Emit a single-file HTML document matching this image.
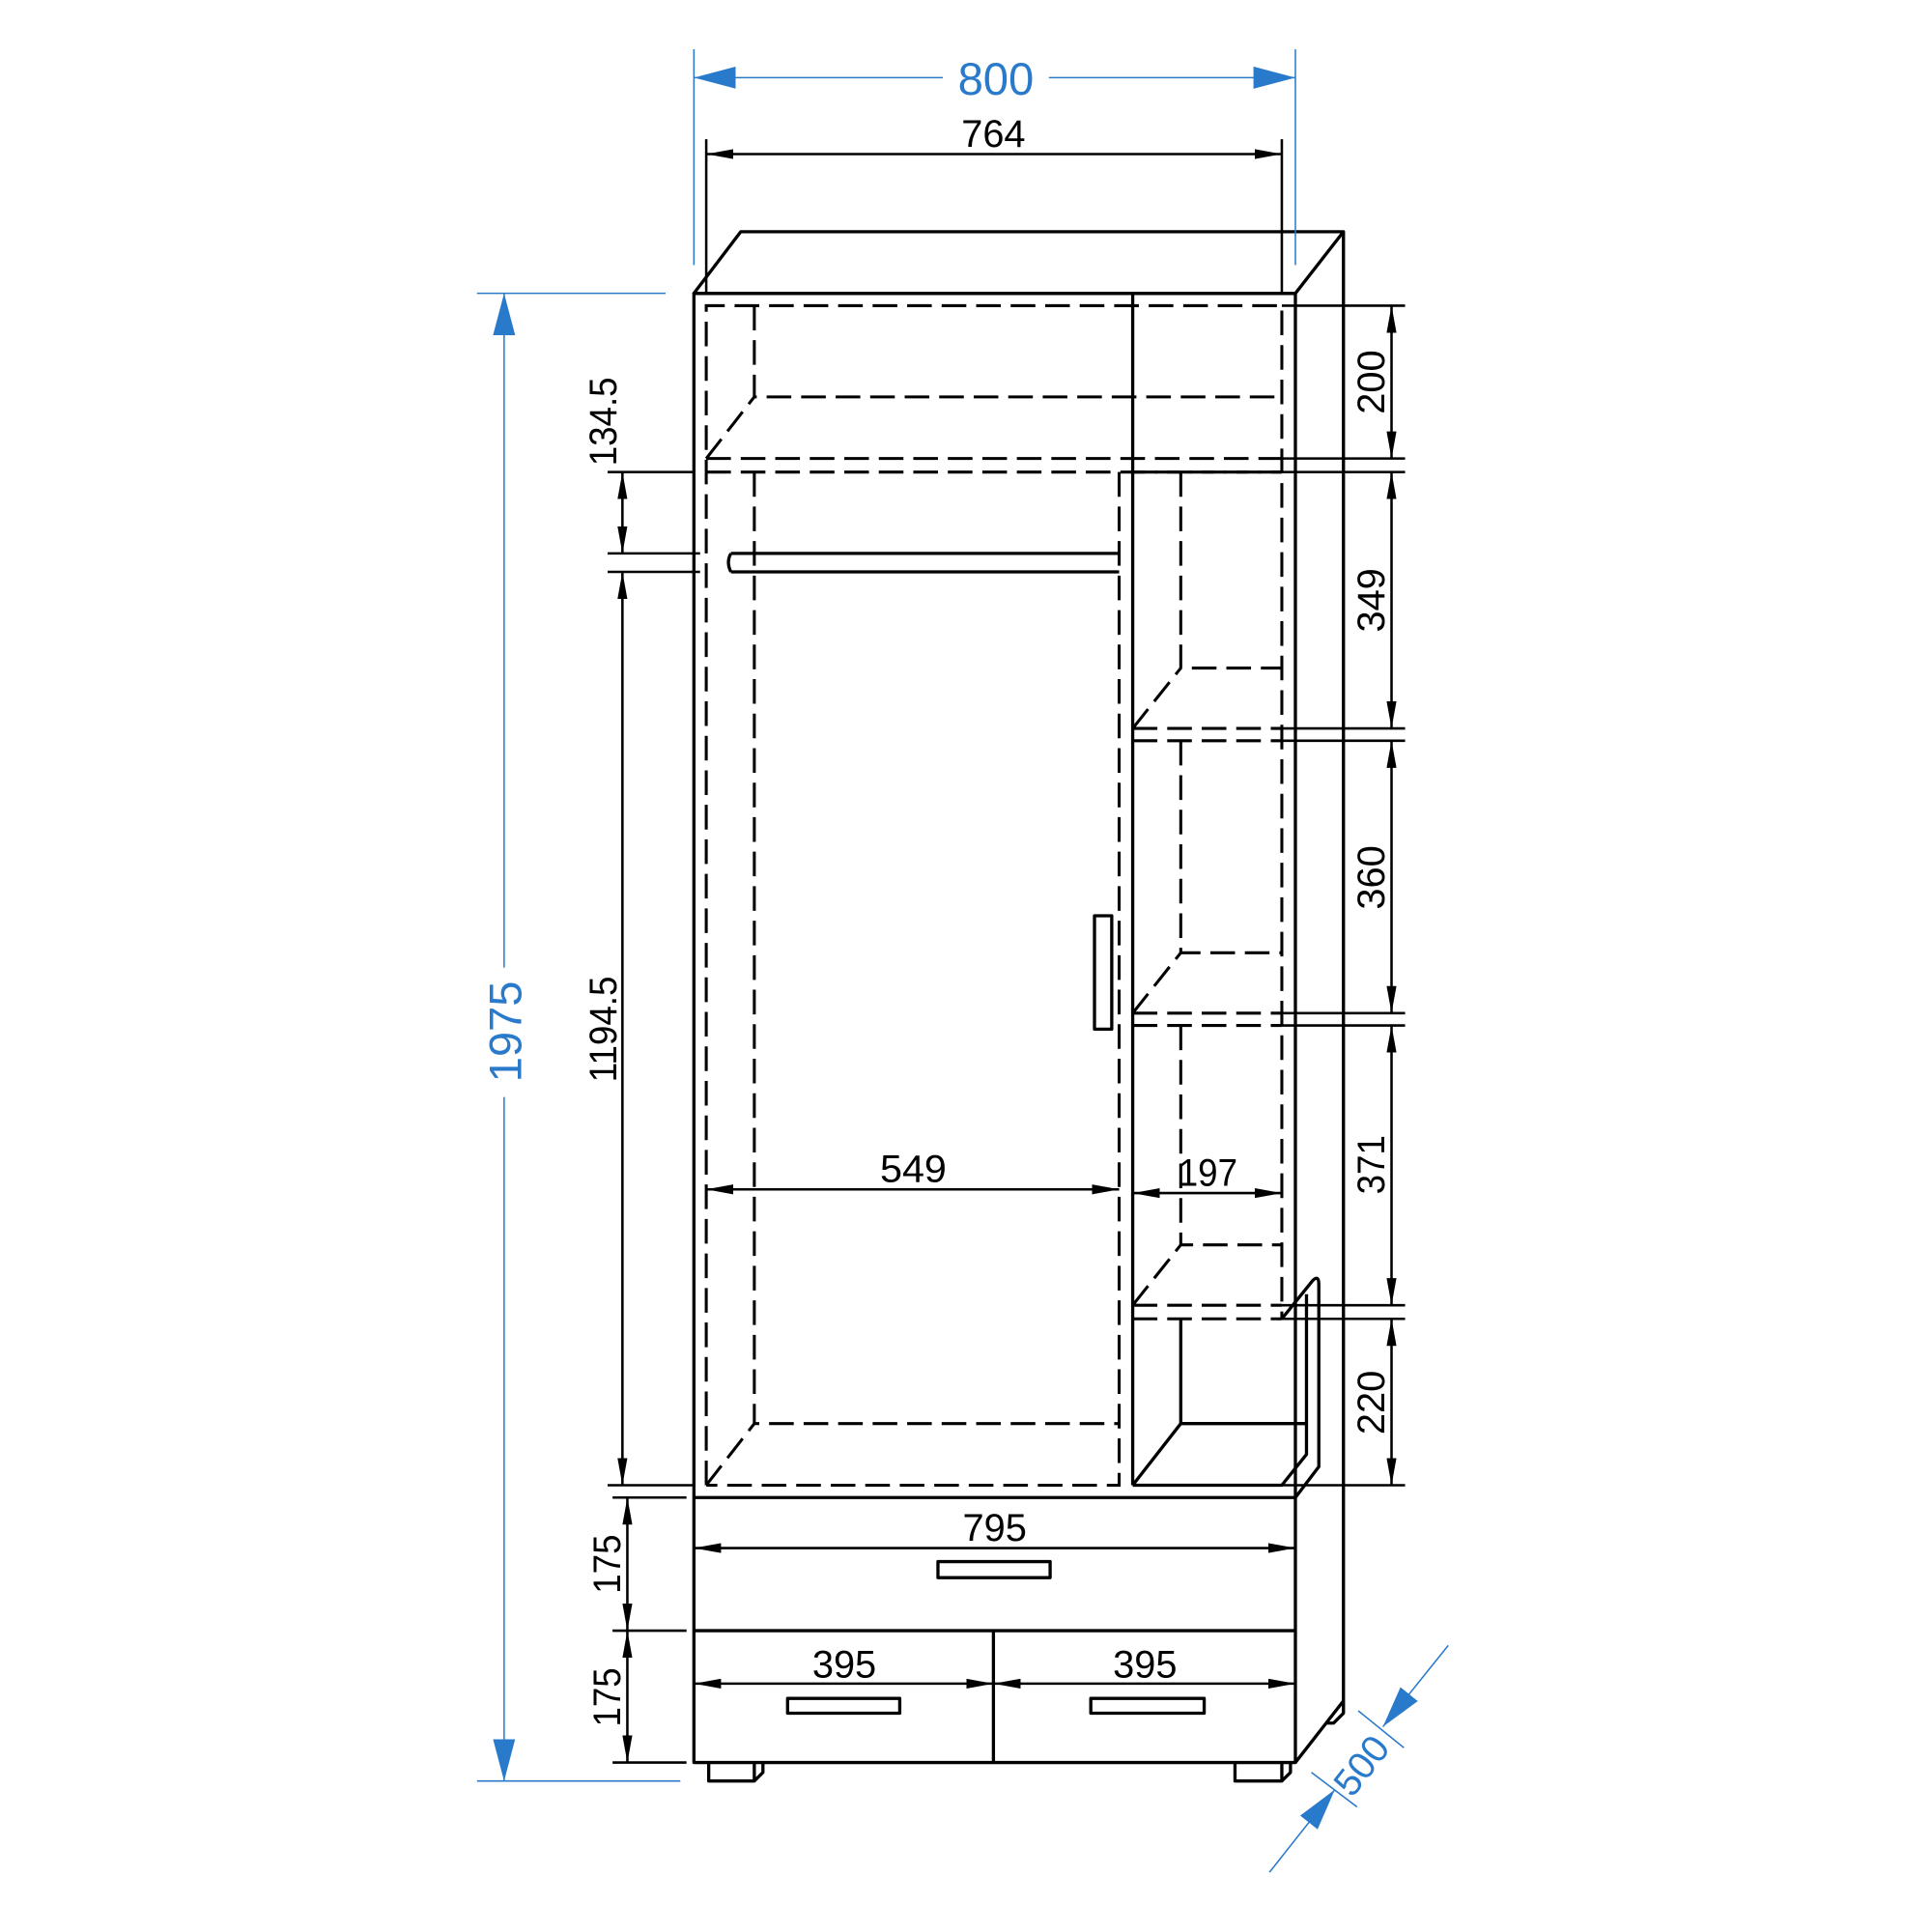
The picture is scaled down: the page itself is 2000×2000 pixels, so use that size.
<!DOCTYPE html>
<html><head><meta charset="utf-8"><style>html,body{margin:0;padding:0;background:#fff}svg{display:block}</style></head>
<body>
<svg xmlns="http://www.w3.org/2000/svg" width="2000" height="2000" viewBox="0 0 1567.5 1567.5">
<defs>
<marker id="a" viewBox="0 0 10 10" refX="10" refY="5" markerWidth="22" markerHeight="8" markerUnits="userSpaceOnUse" orient="auto-start-reverse" preserveAspectRatio="none"><path d="M0,0L10,5L0,10z" fill="#000"/></marker>
<marker id="b" viewBox="0 0 10 10" refX="10" refY="5" markerWidth="34" markerHeight="18" markerUnits="userSpaceOnUse" orient="auto-start-reverse" preserveAspectRatio="none"><path d="M0,0L10,5L0,10z" fill="#2a7acc"/></marker>
</defs>
<g fill="none" stroke="#000" stroke-width="2.6" stroke-linejoin="round">
<path d="M563,238L601,188L1090,188L1051,238Z"/>
<rect x="563" y="238" width="488" height="1192"/>
<path d="M1090,188L1090,1380L1051,1430"/>
<path d="M1090,1380L1090,1390L1082,1398L1076,1398"/>
<path d="M919,238V1205"/>
<path d="M563,1215H1051"/>
<path d="M563,1323H1051M806,1323V1430"/>
<rect x="761" y="1267" width="91" height="13"/>
<rect x="639" y="1378" width="91" height="12"/>
<rect x="885" y="1378" width="92" height="12"/>
<path d="M575,1430V1445H612V1430M612,1445L619,1438V1430"/>
<path d="M1002,1430V1445H1040V1430M1040,1445L1047,1438V1430"/>
<rect x="888" y="743" width="14" height="92"/>
<path d="M593,449H908M593,464H908M593,449Q589,456 593,464"/>
<path d="M958,1070V1155H1060M919,1205L958,1155"/>
<path d="M1040,1070L1065,1039Q1070,1034 1070,1042V1190L1051,1215"/>
<path d="M1060,1050V1180L1040,1205H919"/>
</g>
<g fill="none" stroke="#000" stroke-width="2.4" stroke-dasharray="20,8">
<path d="M573,1205V248H1040V1070"/>
<path d="M612,248V322H1040M573,372L612,322"/>
<path d="M573,372H1040M573,383H1040"/>
<path d="M612,383V1155H908M908,383V1205H573M573,1205L612,1155"/>
<path d="M919,383H1040"/>
<path d="M958,383V542H1040M919,591L958,542M919,591H1040M919,601H1040"/>
<path d="M958,601V773H1040M919,822L958,773M919,822H1040M919,832H1040"/>
<path d="M958,832V1010H1040M919,1059L958,1010M919,1059H1040M919,1070H1040"/>
</g>
<g fill="none" stroke="#000" stroke-width="2">
<path d="M573,113V238M1040,113V238"/>
<path d="M573,125H1040" marker-start="url(#a)" marker-end="url(#a)"/>
<path d="M1040,248H1140M1040,372H1140M1040,383H1140M1040,591H1140M1040,601H1140M1040,822H1140M1040,832H1140M1040,1059H1140M1040,1070H1140M1040,1205H1140"/>
<path d="M1129,248V372" marker-start="url(#a)" marker-end="url(#a)"/>
<path d="M1129,383V591" marker-start="url(#a)" marker-end="url(#a)"/>
<path d="M1129,601V822" marker-start="url(#a)" marker-end="url(#a)"/>
<path d="M1129,832V1059" marker-start="url(#a)" marker-end="url(#a)"/>
<path d="M1129,1070V1205" marker-start="url(#a)" marker-end="url(#a)"/>
<path d="M493,383H563M493,449H568M493,464H568M493,1205H563M497,1215H557M497,1323H557M497,1430H557"/>
<path d="M505,383V449" marker-start="url(#a)" marker-end="url(#a)"/>
<path d="M505,464V1205" marker-start="url(#a)" marker-end="url(#a)"/>
<path d="M509,1215V1323" marker-start="url(#a)" marker-end="url(#a)"/>
<path d="M509,1323V1430" marker-start="url(#a)" marker-end="url(#a)"/>
<path d="M573,965H908" marker-start="url(#a)" marker-end="url(#a)"/>
<path d="M919,968H1040" marker-start="url(#a)" marker-end="url(#a)"/>
<path d="M563,1256H1051" marker-start="url(#a)" marker-end="url(#a)"/>
<path d="M563,1366H806" marker-start="url(#a)" marker-end="url(#a)"/>
<path d="M806,1366H1051" marker-start="url(#a)" marker-end="url(#a)"/>
</g>
<g fill="#000" font-family="Liberation Sans, sans-serif" font-size="31">
<text x="806" y="119" text-anchor="middle" textLength="52" lengthAdjust="spacingAndGlyphs">764</text>
<text x="741" y="959" text-anchor="middle" textLength="54" lengthAdjust="spacingAndGlyphs">549</text>
<text x="980" y="962" text-anchor="middle" textLength="48" lengthAdjust="spacingAndGlyphs">197</text>
<text x="807" y="1250" text-anchor="middle" textLength="52" lengthAdjust="spacingAndGlyphs">795</text>
<text x="685" y="1361" text-anchor="middle" textLength="52" lengthAdjust="spacingAndGlyphs">395</text>
<text x="929" y="1361" text-anchor="middle" textLength="52" lengthAdjust="spacingAndGlyphs">395</text>
<text transform="translate(1123,310) rotate(-90)" text-anchor="middle" textLength="52" lengthAdjust="spacingAndGlyphs">200</text>
<text transform="translate(1123,487) rotate(-90)" text-anchor="middle" textLength="52" lengthAdjust="spacingAndGlyphs">349</text>
<text transform="translate(1123,712) rotate(-90)" text-anchor="middle" textLength="52" lengthAdjust="spacingAndGlyphs">360</text>
<text transform="translate(1123,945) rotate(-90)" text-anchor="middle" textLength="48" lengthAdjust="spacingAndGlyphs">371</text>
<text transform="translate(1123,1138) rotate(-90)" text-anchor="middle" textLength="52" lengthAdjust="spacingAndGlyphs">220</text>
<text transform="translate(500,342) rotate(-90)" text-anchor="middle" textLength="72" lengthAdjust="spacingAndGlyphs">134.5</text>
<text transform="translate(500,835) rotate(-90)" text-anchor="middle" textLength="86" lengthAdjust="spacingAndGlyphs">1194.5</text>
<text transform="translate(503,1269) rotate(-90)" text-anchor="middle" textLength="48" lengthAdjust="spacingAndGlyphs">175</text>
<text transform="translate(503,1377) rotate(-90)" text-anchor="middle" textLength="48" lengthAdjust="spacingAndGlyphs">175</text>
</g>
<g fill="none" stroke="#2a7acc" stroke-width="1.2">
<path d="M563,40V215M1051,40V215M387,238H540M387,1445H552"/>
<path d="M1064,1438L1101,1466M1102,1388L1139,1418"/>
<path d="M1030,1519L1083,1452" marker-end="url(#b)"/>
<path d="M1175,1335L1122,1401" marker-end="url(#b)"/>
</g>
<g fill="none" stroke="#2a7acc" stroke-width="1.2">
<path d="M563,63H765" marker-start="url(#b)"/>
<path d="M851,63H1051" marker-end="url(#b)"/>
<path d="M409,238V785" marker-start="url(#b)"/>
<path d="M409,890V1445" marker-end="url(#b)"/>
</g>
<g fill="#2a7acc" font-family="Liberation Sans, sans-serif" font-size="37">
<text x="808" y="77" text-anchor="middle">800</text>
<text transform="translate(423,837) rotate(-90)" text-anchor="middle">1975</text>
<text transform="translate(1113,1439) rotate(-52)" text-anchor="middle" font-size="31">500</text>
</g>
</svg>
</body></html>
